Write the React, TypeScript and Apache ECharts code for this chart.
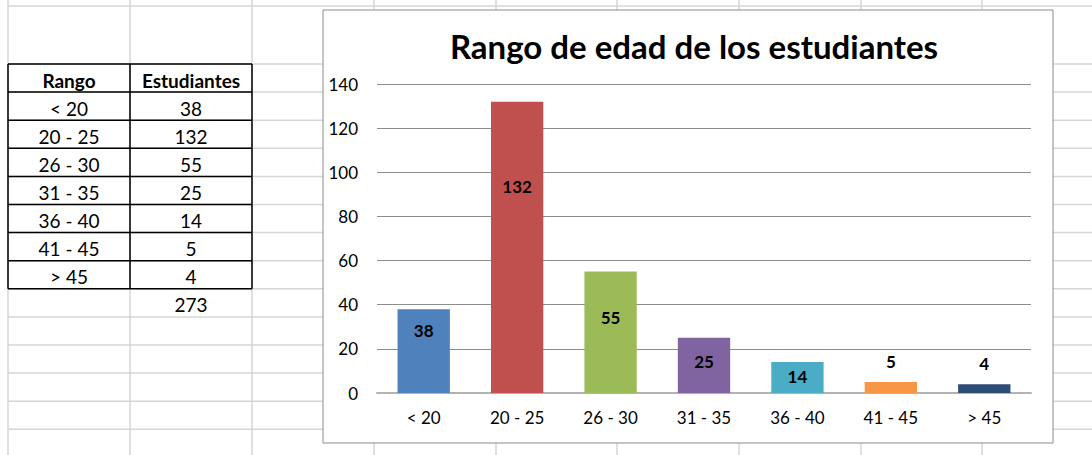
import React, { useEffect, useRef } from "react";
import * as echarts from "echarts";

const categories = ["< 20", "20 - 25", "26 - 30", "31 - 35", "36 - 40", "41 - 45", "> 45"];
const values = [38, 132, 55, 25, 14, 5, 4];
const yTicks = { min: 0, max: 140, interval: 20 };
const title = "Rango de edad de los estudiantes";
const tableHeaders = ["Rango", "Estudiantes"];

const barColors = ["#4F81BD", "#C0504D", "#9BBB59", "#8064A2", "#4BACC6", "#F79646", "#2C4D75"];
// label inset from the bar top (positive = inside, negative = above)
const labelInset = [13, 76, 37, 15, 6, -12, -12];

const FONT = "Lato";

export default function App() {
  const ref = useRef<HTMLDivElement>(null);
  useEffect(() => {
    if (!ref.current) return;
    const chart = echarts.init(ref.current, null, { renderer: "svg" });

    const colX = [8, 130, 252, 374, 496, 617, 739, 861, 982, 1104];
    const rowY = [6, 64];
    for (let i = 1; i <= 14; i++) rowY.push(64 + i * 28.1);
    const gridGray = "#D6D6D6";
    const g: any[] = [];
    colX.forEach((x) =>
      g.push({ type: "line", z: -20, shape: { x1: x, y1: 0, x2: x, y2: 455 }, style: { stroke: gridGray, lineWidth: 1.5 } })
    );
    rowY.forEach((y) =>
      g.push({ type: "line", z: -20, shape: { x1: 8, y1: y, x2: 1092, y2: y }, style: { stroke: gridGray, lineWidth: 1.5 } })
    );
    // chart box
    g.push({
      type: "rect",
      z: -10,
      shape: { x: 323, y: 10, width: 730, height: 433 },
      style: { fill: "#FFFFFF", stroke: "#8C8C8C", lineWidth: 1 },
    });
    // data table
    const tTop = 64;
    const rh = 28.1;
    const nRows = categories.length + 1;
    const tBottom = tTop + nRows * rh;
    for (let i = 0; i <= nRows; i++) {
      const y = tTop + i * rh;
      g.push({ type: "line", z: -5, shape: { x1: 8, y1: y, x2: 252, y2: y }, style: { stroke: "#000", lineWidth: 1.5 } });
    }
    [8, 130, 252].forEach((x) =>
      g.push({ type: "line", z: -5, shape: { x1: x, y1: tTop, x2: x, y2: tBottom }, style: { stroke: "#000", lineWidth: 1.5 } })
    );
    const cx = [69, 191];
    const txt = (x: number, y: number, s: string, bold = false) => ({
      type: "text",
      x,
      y,
      style: {
        text: s,
        fill: "#000",
        font: `${bold ? "bold " : ""}19px ${FONT}`,
        textAlign: "center",
        textVerticalAlign: "middle",
      },
    });
    g.push(txt(cx[0], tTop + rh / 2 + 2, tableHeaders[0], true));
    g.push(txt(cx[1], tTop + rh / 2 + 2, tableHeaders[1], true));
    categories.forEach((c, i) => {
      const y = tTop + (i + 1) * rh + rh / 2 + 2;
      g.push(txt(cx[0], y, c));
      g.push(txt(cx[1], y, String(values[i])));
    });
    const total = values.reduce((a, b) => a + b, 0);
    g.push(txt(cx[1], tBottom + rh / 2 + 2, String(total)));

    chart.setOption({
      animation: false,
      textStyle: { fontFamily: FONT },
      title: {
        text: title,
        left: 689,
        textAlign: "center",
        top: 24,
        textStyle: { fontFamily: FONT, fontWeight: "bold", fontSize: 33, color: "#000" },
      },
      graphic: g,
      grid: { left: 377, right: 61, top: 84, bottom: 62 },
      xAxis: {
        type: "category",
        data: categories,
        axisLine: { lineStyle: { color: "#B3B3B3", width: 2 } },
        axisTick: { show: false },
        axisLabel: { color: "#000", fontSize: 17, margin: 16, fontFamily: FONT },
      },
      yAxis: {
        type: "value",
        min: yTicks.min,
        max: yTicks.max,
        interval: yTicks.interval,
        axisLine: { show: false },
        axisTick: { show: false },
        axisLabel: { color: "#000", fontSize: 17, margin: 19, fontFamily: FONT },
        splitLine: { lineStyle: { color: "#8C8C8C", width: 1 } },
      },
      series: [
        {
          type: "bar",
          barWidth: "56%",
          data: values.map((v, i) => ({
            value: v,
            itemStyle: { color: barColors[i] },
            label: {
              show: true,
              position: labelInset[i] >= 0 ? "insideTop" : "top",
              distance: Math.abs(labelInset[i]),
              color: "#000",
              fontWeight: "bold",
              fontSize: 17,
              fontFamily: FONT,
            },
          })),
        },
      ],
    });
    return () => chart.dispose();
  }, []);
  return <div ref={ref} style={{ position: "absolute", left: 0, top: 0, width: 1092, height: 455 }} />;
}
